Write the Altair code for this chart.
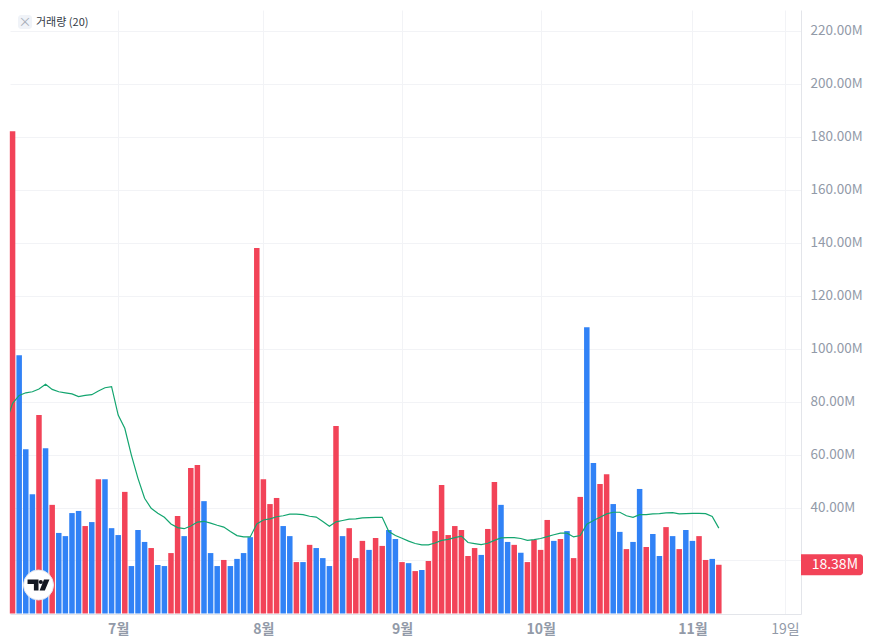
import pandas as pd
import altair as alt

volume = [182, 97.5, 62, 45, 74.9, 62.4, 41, 30.4, 29.2, 37.9,
          38.7, 33, 34.5, 50.7, 50.7, 32.2, 29.6, 45.9, 17.9, 31.5,
          27, 24.7, 18.3, 17.9, 22.8, 36.8, 29.2, 54.9, 56, 42.4,
          22.8, 17.9, 20.2, 17.9, 20.6, 22.8, 28.8, 138, 50.7, 41.3,
          43.6, 33, 29.2, 19.4, 19.4, 25.9, 24.7, 20.9, 17.9, 70.8,
          29.2, 32.2, 20.9, 27.4, 24, 28.5, 25.5, 31.5, 28.1, 19.4,
          19, 16, 16.4, 19.8, 31.1, 48.5, 29.6, 33, 31.5, 21.7,
          24.7, 22.1, 31.9, 49.6, 41, 27, 25.9, 22.9, 19.4, 27.8,
          24, 35.3, 27.4, 28.1, 31.1, 20.9, 44, 108, 56.8, 48.9,
          52.6, 41.3, 30.8, 24.3, 27, 47, 25.1, 30, 21.7, 32.6,
          29.2, 24.3, 31.5, 27.4, 29.2, 20.2, 20.6, 18.38]
# r = up day, b = down day
updown = list("rbbbrbrbbb" "brbrbbbrbb" "brbbrrbrrb" "bbrbbbbrrr" "rbbrbrbbbr"
              "brrrbrrbbr" "brbrrrrrrr" "rbrrbbrbrr" "rrbrbrrbbr" "rbbrbbrbbr" "brbbrrbr")
# starts one bar before the first visible one
ma20 = [71.8, 79.3, 82.3, 83.3, 83.7, 84.7, 86.5, 84.6, 83.7, 83.3, 82.9,
        81.9, 82.3, 82.6, 84, 85.2, 85.6, 74.9, 69.9, 59.8, 51,
        43.5, 39.7, 37.8, 36.3, 33.8, 32.4, 32, 33, 34.5, 34.8,
        34.1, 33.3, 32.6, 30.9, 29.4, 28.9, 28.9, 33.8, 35.3, 35.7,
        36.5, 36.9, 37.5, 37.5, 37.3, 36.7, 36.4, 34.7, 32.9, 34.6,
        35.1, 35.6, 35.7, 36.1, 36.2, 36.3, 36.3, 30.9, 29.4, 28.4,
        27.3, 26.4, 25.9, 25.9, 26.6, 27.6, 28, 28.6, 29.2, 26.8,
        26.4, 26, 26.5, 27.6, 28.5, 28.6, 28.6, 28.3, 27.6, 27.9,
        28.3, 29, 29.7, 30.3, 30.3, 28.9, 29.4, 33.7, 35.1, 36.3,
        37.6, 38.2, 38.2, 36.9, 36.3, 37.3, 37.3, 37.6, 37.7, 38,
        38.1, 37.6, 37.7, 37.8, 37.8, 37.7, 36.6, 32.2]
ma_index = list(range(-1, len(ma20) - 1))
x_ticks = [16, 38, 59, 80, 103, 117]
x_labels = ["7월", "8월", "9월", "10월", "11월", "19일"]
y_ticks = list(range(20, 221, 20))
last_value = 18.38
last_label = "18.38M"
legend_label = "거래량 (20)"

FONT = "Noto Sans CJK KR"
RED = "#f24358"
BLUE = "#3182f6"
GREEN = "#13a56f"
GREY = "#929aa8"

bars = pd.DataFrame({"idx": range(len(volume)), "vol": volume, "dir": updown})
line = pd.DataFrame({"idx": ma_index, "ma": ma20})

label_map = "{" + ",".join(f"'{t}':'{l}'" for t, l in zip(x_ticks, x_labels)) + "}"
x_scale = alt.Scale(domain=[-0.39, 119.45], nice=False, zero=False, padding=0)
y_scale = alt.Scale(domain=[-0.2, 227.8], nice=False, zero=False)

x_axis = alt.Axis(values=x_ticks, title=None, labelExpr=f"{label_map}[datum.value]", grid=True,
                  gridColor="#f2f3f6", domainColor="#e3e5ea", ticks=False, labelFont=FONT, labelFontSize=14,
                  labelColor=GREY, labelPadding=8,
                  labelFontWeight=alt.expr("datum.value == 117 ? 'normal' : 'bold'"))
y_axis = alt.Axis(values=y_ticks, title=None, orient="right", grid=True, gridColor="#f2f3f6",
                  domainColor="#e3e5ea", ticks=False, labelFont=FONT, labelFontSize=13.5, labelColor=GREY,
                  labelPadding=9,
                  labelExpr="datum.value == 20 ? '' : datum.value + '.00M'")

bar_layer = alt.Chart(bars).mark_bar(size=5.5).encode(
    x=alt.X("idx:Q", scale=x_scale, axis=x_axis),
    y=alt.Y("vol:Q", scale=y_scale, axis=y_axis),
    color=alt.Color("dir:N", scale=alt.Scale(domain=["r", "b"], range=[RED, BLUE]), legend=None),
)

ma_layer = alt.Chart(line).mark_line(color=GREEN, strokeWidth=1.2, clip=True).encode(
    x=alt.X("idx:Q", scale=x_scale),
    y=alt.Y("ma:Q", scale=y_scale),
)

# last value badge on the price scale
tag = pd.DataFrame({"v": [last_value], "t": [last_label]})
badge = alt.Chart(tag).mark_rect(width=62, height=21, color=RED, cornerRadiusTopRight=3,
                                 cornerRadiusBottomRight=3).encode(
    x=alt.value(822), y=alt.Y("v:Q", scale=y_scale))
badge_text = alt.Chart(tag).mark_text(font=FONT, fontSize=14, color="white", align="right",
                                      baseline="middle").encode(
    x=alt.value(848), y=alt.Y("v:Q", scale=y_scale), text="t:N")

# legend chip top left
one = pd.DataFrame({"t": [legend_label]})
chip = alt.Chart(one).mark_rect(color="#f0f3f8", cornerRadius=3, width=14, height=14).encode(
    x=alt.value(15), y=alt.value(12))
chip_x = alt.Chart(one).mark_text(text="×", fontSize=13, color="#a8adb8", font=FONT).encode(
    x=alt.value(15), y=alt.value(12))
legend_text = alt.Chart(one).mark_text(font=FONT, fontSize=11, color="#333a45", align="left",
                                       baseline="middle").encode(
    x=alt.value(26), y=alt.value(13), text="t:N")

# tradingview badge
logo_bg = alt.Chart(one).mark_point(shape="circle", size=900, filled=True, fill="white", opacity=1,
                                    stroke="#e6e8ee", strokeWidth=1).encode(
    x=alt.value(28.5), y=alt.value(575))
logo = alt.Chart(one).mark_point(
    shape="M-1,-0.5 L0,-0.5 L0,0.5 L-0.42,0.5 L-0.42,-0.08 L-1,-0.08 Z "
          "M0.03,-0.28 A0.18,0.18 0 1 1 0.39,-0.28 A0.18,0.18 0 1 1 0.03,-0.28 Z "
          "M0.5,-0.5 L1,-0.5 L0.58,0.5 L0.1,0.5 Z",
    size=480, filled=True, fill="#131722", opacity=1, strokeWidth=0).encode(
    x=alt.value(28.5), y=alt.value(575))

chart = alt.layer(bar_layer, ma_layer, badge, badge_text, chip, chip_x, legend_text, logo_bg, logo).properties(
    width=791, height=604, padding={"left": 2, "top": 2, "right": 62, "bottom": 25},
    autosize=alt.AutoSizeParams(type="none"),
    background="white",
).configure_view(stroke=None)

chart.save("out.html", embed_options={"renderer": "svg", "actions": False})
